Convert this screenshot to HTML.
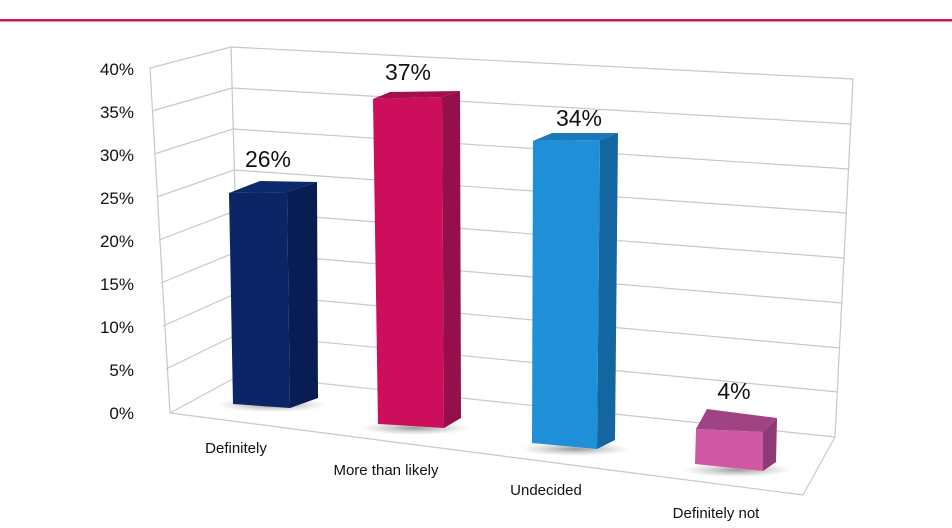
<!DOCTYPE html>
<html><head><meta charset="utf-8"><style>
html,body{margin:0;padding:0;background:#fff;}
svg{display:block;font-family:"Liberation Sans",Arial,sans-serif;}
</style></head><body>
<svg width="952" height="528" viewBox="0 0 952 528" xmlns="http://www.w3.org/2000/svg">
<defs>
<radialGradient id="sh" cx="50%" cy="50%" r="50%"><stop offset="0" stop-color="#555" stop-opacity="0.6"/><stop offset="1" stop-color="#888" stop-opacity="0"/></radialGradient>
</defs>
<rect x="0" y="19" width="952" height="2.5" fill="#c8175f"/>
<g stroke="#c8c8c8" stroke-width="1.2" fill="none">
<!-- walls outline -->
<polyline points="150,68 231,47 853,79 835,437 803,495 170,413 150,68"/>
<line x1="231" y1="47" x2="240" y2="375"/>
<line x1="170" y1="413" x2="240" y2="375"/>
<line x1="240" y1="375" x2="835" y2="437"/>
<!-- gridlines -->
<polyline points="152,111 232,88 851,124"/>
<polyline points="154,154 233,129 849,169"/>
<polyline points="157,197 234,170 847,213"/>
<polyline points="159,240 235,211 844,258"/>
<polyline points="161,283 236,252 842,303"/>
<polyline points="163,326 237,293 840,348"/>
<polyline points="166,369 238,334 838,392"/>
</g>
<!-- shadows -->
<ellipse cx="272" cy="405" rx="55" ry="7" fill="url(#sh)"/>
<ellipse cx="415" cy="428" rx="55" ry="7" fill="url(#sh)"/>
<ellipse cx="575" cy="449" rx="55" ry="7" fill="url(#sh)"/>
<ellipse cx="737" cy="470" rx="55" ry="7" fill="url(#sh)"/>
<!-- bar 1 -->
<polygon points="229,193 287,192 317,182 260,181" fill="#0a2a6e"/>
<polygon points="287,192 317,182 318,398 290,408" fill="#081d52"/>
<polygon points="229,193 287,192 290,408 233,404" fill="#0b2566"/>
<!-- bar 2 -->
<polygon points="373,99 442,97 460,91 390,92" fill="#a5104c"/>
<polygon points="442,97 460,91 461,418 444,428" fill="#95104a"/>
<polygon points="373,99 442,97 444,428 378,424" fill="#cc0e5c"/>
<!-- bar 3 -->
<polygon points="533,141 600,140 618,133 552,133" fill="#1a79bb"/>
<polygon points="600,140 618,133 615,440 597,449" fill="#1466a0"/>
<polygon points="533,141 600,140 597,449 532,443" fill="#1f8fd8"/>
<!-- bar 4 -->
<polygon points="696,429 763,432 777,418 707,409" fill="#a04384"/>
<polygon points="763,432 777,418 776,462 763,471" fill="#8e3a76"/>
<polygon points="696,429 763,432 763,471 695,464" fill="#d057a3"/>
<!-- value labels -->
<g font-size="23" fill="#111" text-anchor="middle">
<text x="268" y="167">26%</text>
<text x="408" y="80">37%</text>
<text x="579" y="126">34%</text>
<text x="734" y="399">4%</text>
</g>
<!-- y labels -->
<g font-size="17" fill="#111" text-anchor="end">
<text x="134" y="75">40%</text>
<text x="134" y="118">35%</text>
<text x="134" y="161">30%</text>
<text x="134" y="204">25%</text>
<text x="134" y="247">20%</text>
<text x="134" y="290">15%</text>
<text x="134" y="333">10%</text>
<text x="134" y="376">5%</text>
<text x="134" y="419">0%</text>
</g>
<!-- category labels -->
<g font-size="15" fill="#111" text-anchor="middle">
<text x="236" y="453">Definitely</text>
<text x="386" y="475">More than likely</text>
<text x="546" y="495">Undecided</text>
<text x="716" y="518">Definitely not</text>
</g>
</svg>
</body></html>
